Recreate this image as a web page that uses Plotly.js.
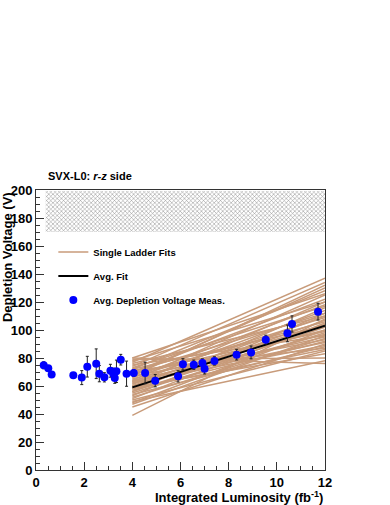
<!DOCTYPE html>
<html>
<head>
<meta charset="utf-8">
<script src="https://cdn.plot.ly/plotly-3.0.1.min.js"></script>
<style>
  body { margin: 0; background: #fff; }
  #plot { width: 390px; height: 505px; }
</style>
</head>
<body>
<div id="plot"></div>
<script>
// measured points
var lumi = [0.32, 0.51, 0.65, 1.55, 1.9, 2.13, 2.5, 2.63, 2.84, 3.09, 3.21, 3.27, 3.34, 3.52, 3.76,
            4.06, 4.53, 4.95, 5.9, 6.1, 6.55, 6.91, 7.0, 7.41, 8.33, 8.93, 9.54, 10.44, 10.63, 11.71];
var volt = [74.8, 72.6, 68.3, 67.6, 66, 73.8, 75.9, 68.8, 66.2, 70.9, 68.8, 65.7, 70.5, 78.8, 68.8,
            69.3, 69.3, 63.8, 66.9, 75.5, 75.2, 76.4, 72.4, 77.9, 82.4, 84, 93.1, 97.6, 104.3, 113.1];
var voltErr = [2.5, 1.5, 1, 1, 5, 7.4, 10.6, 5.8, 3.3, 4.6, 4, 3.8, 8, 3.8, 9,
               2.5, 7.7, 4.4, 4, 4, 3.3, 3, 3.8, 3, 3.8, 4.6, 3.2, 6, 5.8, 6];

// average fit
var fitX = [4, 12];
var fitY = [59, 103];

// single ladder fits: value at x=4 and at x=12
var ladderX = [4, 12];
var ladderStart = [39, 45, 47, 48, 50, 51, 52, 53, 54, 55, 56, 56, 57, 58, 59, 60, 60, 61, 62, 62, 63, 64,
                   64, 65, 66, 66, 67, 68, 68, 69, 70, 70, 71, 72, 72, 73, 74, 75, 76, 77, 78, 79, 80, 80,
                   49, 58, 63, 67];
var ladderEnd = [108, 90, 96, 100, 85, 105, 94, 112, 88, 98, 102, 116, 92, 107, 83, 110, 97, 120, 89, 104, 114, 95,
                 125, 100, 109, 118, 93, 130, 106, 99, 122, 112, 87, 128, 103, 117, 134, 96, 110, 137, 120, 80, 76, 126,
                 78, 86, 91, 132];

// hatched excluded band
var bandX = [0.4, 12, 12, 0.4, 0.4];
var bandY = [170, 170, 199.3, 199.3, 170];

var tan = "rgb(200,155,122)";
var data = [];

data.push({
  x: bandX, y: bandY, mode: "lines", fill: "toself",
  line: {width: 0, color: "rgba(0,0,0,0)"},
  fillcolor: "white",
  fillpattern: {shape: "x", size: 3, solidity: 0.3, fgcolor: "#888", bgcolor: "white"},
  showlegend: false, hoverinfo: "skip"
});

for (var i = 0; i < ladderStart.length; i++) {
  data.push({
    x: ladderX, y: [ladderStart[i], ladderEnd[i]], mode: "lines",
    line: {color: tan, width: 1.5},
    name: "Single Ladder Fits", legendgroup: "ladder",
    showlegend: i === 0
  });
}

data.push({
  x: fitX, y: fitY, mode: "lines",
  line: {color: "black", width: 2},
  name: "Avg. Fit", legendgroup: "fit"
});

data.push({
  x: lumi, y: volt, mode: "markers",
  marker: {color: "blue", size: 8},
  error_y: {type: "data", array: voltErr, color: "#222", thickness: 1, width: 1.5},
  name: "Avg. Depletion Voltage Meas.", legendgroup: "meas"
});

var tickFont = {family: "Liberation Sans, Arial, sans-serif", size: 13, color: "black", weight: "bold"};

var layout = {
  width: 390, height: 505,
  margin: {l: 36, r: 65, t: 190, b: 35},
  paper_bgcolor: "white", plot_bgcolor: "white",
  font: {family: "Liberation Sans, Arial, sans-serif", color: "black"},
  xaxis: {
    range: [0, 12], dtick: 2, showgrid: false, zeroline: false,
    ticks: "inside", ticklen: 8, tickcolor: "#333",
    minor: {dtick: 0.5, ticks: "inside", ticklen: 4, tickcolor: "#333"},
    showline: true, linecolor: "#333", linewidth: 1, mirror: true,
    tickfont: tickFont
  },
  yaxis: {
    range: [0, 200], dtick: 20, showgrid: false, zeroline: false,
    ticks: "inside", ticklen: 8, tickcolor: "#333",
    minor: {dtick: 5, ticks: "inside", ticklen: 4, tickcolor: "#333"},
    showline: true, linecolor: "#333", linewidth: 1, mirror: true,
    tickfont: tickFont
  },
  legend: {
    x: 0.06, y: 0.83, xanchor: "left", yanchor: "top",
    bgcolor: "rgba(0,0,0,0)", tracegroupgap: 5,
    font: {size: 9.5, weight: "bold", family: "Liberation Sans, Arial, sans-serif"}
  },
  annotations: [
    {text: "SVX-L0: <i>r-z</i> side", xref: "paper", yref: "paper", x: 0.035, y: 1.02,
     xanchor: "left", yanchor: "bottom", showarrow: false,
     font: {size: 11, weight: "bold"}},
    {text: "Depletion Voltage (V)", xref: "paper", yref: "paper", x: -0.1, y: 1.0,
     xanchor: "center", yanchor: "top", textangle: -90, showarrow: false,
     font: {size: 13, weight: "bold"}},
    {text: "Integrated Luminosity (fb<sup>-1</sup>)", xref: "paper", yref: "paper", x: 1.0, y: -0.06,
     xanchor: "right", yanchor: "top", showarrow: false,
     font: {size: 13, weight: "bold"}}
  ]
};

Plotly.newPlot("plot", data, layout, {displayModeBar: false, staticPlot: true});
</script>
</body>
</html>
